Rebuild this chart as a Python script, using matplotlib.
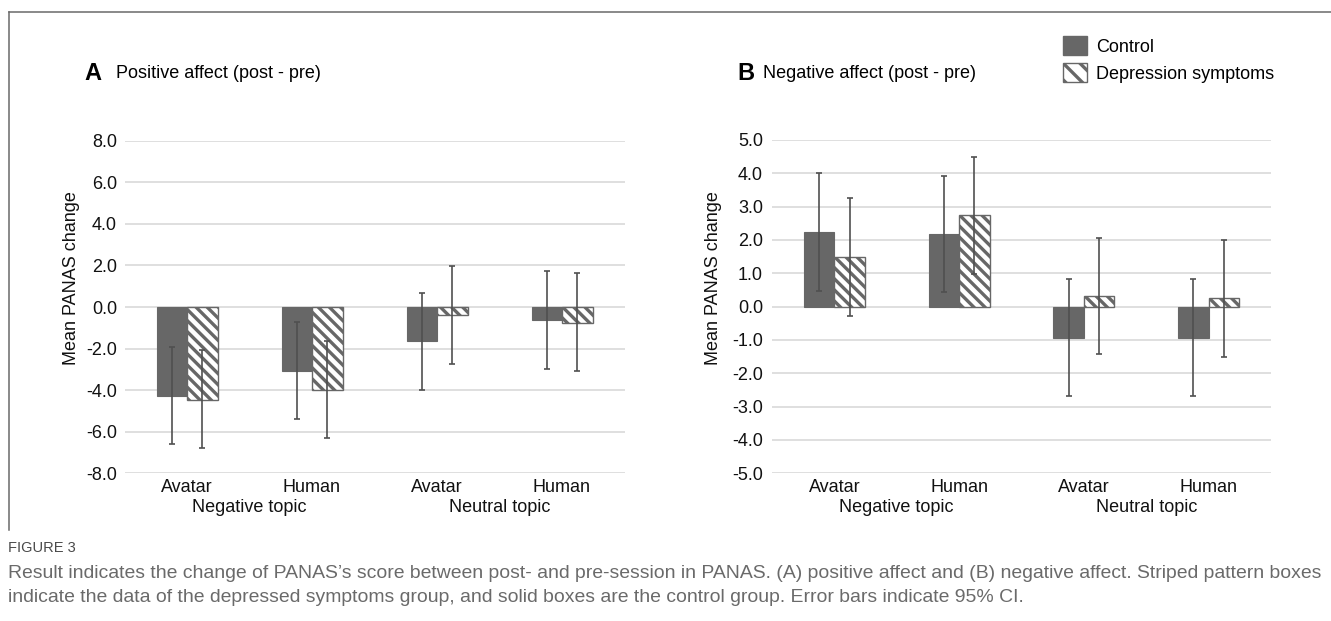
import numpy as np
import matplotlib
matplotlib.use("Agg")
import matplotlib.pyplot as plt
from matplotlib.lines import Line2D
from matplotlib.patches import Patch

plt.rcParams["font.family"] = ["Liberation Sans", "DejaVu Sans"]
plt.rcParams["hatch.linewidth"] = 2.4

# category labels
conditions = ["Avatar", "Human", "Avatar", "Human"]
topics = ["Negative topic", "Neutral topic"]

# A: positive affect (post - pre)
pa_ctrl = [-4.28, -3.09, -1.65, -0.64]
pa_ctrl_lo = [-6.60, -5.41, -3.98, -2.96]
pa_ctrl_hi = [-1.94, -0.72, 0.69, 1.73]
pa_dep = [-4.45, -3.98, -0.40, -0.75]
pa_dep_lo = [-6.78, -6.32, -2.74, -3.07]
pa_dep_hi = [-2.06, -1.63, 1.95, 1.62]

# B: negative affect (post - pre)
na_ctrl = [2.25, 2.18, -0.94, -0.94]
na_ctrl_lo = [0.48, 0.44, -2.67, -2.67]
na_ctrl_hi = [4.00, 3.93, 0.82, 0.82]
na_dep = [1.49, 2.74, 0.33, 0.26]
na_dep_lo = [-0.27, 0.98, -1.42, -1.50]
na_dep_hi = [3.25, 4.50, 2.07, 2.00]

pa_ticks = [8, 6, 4, 2, 0, -2, -4, -6, -8]
na_ticks = [5, 4, 3, 2, 1, 0, -1, -2, -3, -4, -5]

DARK = "#676767"
HATCH_EDGE = "#676767"
ERR = "#505050"
GRID = "#d9d9d9"
TXT = "#111111"
FS = 13

W, H = 1331, 621
fig = plt.figure(figsize=(W / 100, H / 100), dpi=100)


def px(x, y):
    # pixel coords (top-left origin) -> figure fraction
    return x / W, 1 - y / H


def draw_panel(rect, ctrl, c_lo, c_hi, dep, d_lo, d_hi, ticks, lab_dx):
    ax = fig.add_axes(rect)
    x = np.arange(len(conditions))
    bw = 0.244
    ctrl = np.array(ctrl)
    dep = np.array(dep)
    ax.bar(x - bw / 2, ctrl, bw, color=DARK, edgecolor=DARK, lw=0.8, zorder=2)
    ax.bar(x + bw / 2, dep, bw, color="white", edgecolor=HATCH_EDGE,
           hatch="\\\\\\", lw=1.0, zorder=2)
    ax.errorbar(x - bw / 2, ctrl, yerr=[ctrl - np.array(c_lo), np.array(c_hi) - ctrl],
                fmt="none", ecolor=ERR, elinewidth=1.2, capsize=2.4, capthick=1.2, zorder=3)
    ax.errorbar(x + bw / 2, dep, yerr=[dep - np.array(d_lo), np.array(d_hi) - dep],
                fmt="none", ecolor=ERR, elinewidth=1.2, capsize=2.4, capthick=1.2, zorder=3)

    ax.set_xlim(-0.5, len(conditions) - 0.5)
    ax.set_ylim(min(ticks), max(ticks))
    ax.set_yticks(ticks)
    ax.set_yticklabels([f"{t:.1f}" for t in ticks], fontsize=FS, color=TXT)
    ax.tick_params(axis="y", length=0, pad=lab_dx)
    ax.set_xticks([])
    ax.grid(axis="y", color=GRID, lw=1.2, zorder=0)
    ax.set_axisbelow(True)
    for sp in ax.spines.values():
        sp.set_visible(False)

    for i, c in enumerate(conditions):
        ax.annotate(c, (i, 0), xycoords=("data", "axes fraction"),
                    xytext=(0, -10), textcoords="offset points",
                    ha="center", va="center", fontsize=FS, color=TXT)
    for j, t in enumerate(topics):
        ax.annotate(t, (2 * j + 0.5, 0), xycoords=("data", "axes fraction"),
                    xytext=(0, -24.5), textcoords="offset points",
                    ha="center", va="center", fontsize=FS, color=TXT)
    return ax


ax_a = draw_panel([124.5 / W, 1 - 473.3 / H, 500 / W, 332.6 / H],
                  pa_ctrl, pa_ctrl_lo, pa_ctrl_hi, pa_dep, pa_dep_lo, pa_dep_hi,
                  pa_ticks, 5.4)
ax_b = draw_panel([772 / W, 1 - 473.3 / H, 499 / W, 333.3 / H],
                  na_ctrl, na_ctrl_lo, na_ctrl_hi, na_dep, na_dep_lo, na_dep_hi,
                  na_ticks, 6.5)

# y labels
fig.text(*px(72, 278.5), "Mean PANAS change", rotation=90, ha="center",
         va="center", fontsize=FS, color=TXT)
fig.text(*px(713, 278.5), "Mean PANAS change", rotation=90, ha="center",
         va="center", fontsize=FS, color=TXT)

# panel titles
fig.text(*px(84, 73), "A", fontsize=17, fontweight="bold", ha="left", va="center")
fig.text(*px(116, 73), "Positive affect (post - pre)", fontsize=FS, ha="left", va="center")
fig.text(*px(737, 73), "B", fontsize=17, fontweight="bold", ha="left", va="center")
fig.text(*px(763, 73), "Negative affect (post - pre)", fontsize=FS, ha="left", va="center")

# legend
handles = [Patch(facecolor=DARK, edgecolor=DARK),
           Patch(facecolor="white", edgecolor=HATCH_EDGE, hatch="\\\\")]
fig.legend(handles, ["Control", "Depression symptoms"], loc="upper left",
           bbox_to_anchor=px(1063, 36), frameon=False, fontsize=FS,
           handlelength=1.33, handleheight=1.27, handletextpad=0.5,
           labelspacing=0.4, borderpad=0, borderaxespad=0)

# frame around the figure panels
fig.add_artist(Line2D([9.3 / W, 1.0], [1 - 12.3 / H] * 2, color="#6a6a6a", lw=1.1))
fig.add_artist(Line2D([9.3 / W] * 2, [1 - 12.3 / H, 1 - 530 / H], color="#6a6a6a", lw=1.1))

# caption
cap_font = ["Liberation Sans Narrow", "Liberation Sans", "DejaVu Sans"]
fig.text(*px(8, 548), "FIGURE 3", fontsize=10.5, color="#4a4a4a", ha="left",
         va="center", family=cap_font)
line1 = ("Result indicates the change of PANAS\u2019s score between post- and pre-session in PANAS. "
         "(A) positive affect and (B) negative affect. Striped pattern boxes")
line2 = ("indicate the data of the depressed symptoms group, and solid boxes are the control "
         "group. Error bars indicate 95% CI.")
t1 = fig.text(*px(8, 573), line1, fontsize=12, color="#6a6a6a", ha="left",
              va="center", family=cap_font)
t2 = fig.text(*px(8, 598), line2, fontsize=12, color="#6a6a6a", ha="left",
              va="center", family=cap_font)
# scale caption size so line 1 spans the same width as in the figure
r = fig.canvas.get_renderer()
w1 = t1.get_window_extent(r).width
fs = 12 * 1310 / w1
t1.set_fontsize(fs)
t2.set_fontsize(fs)

fig.savefig("out.png", dpi=100)
